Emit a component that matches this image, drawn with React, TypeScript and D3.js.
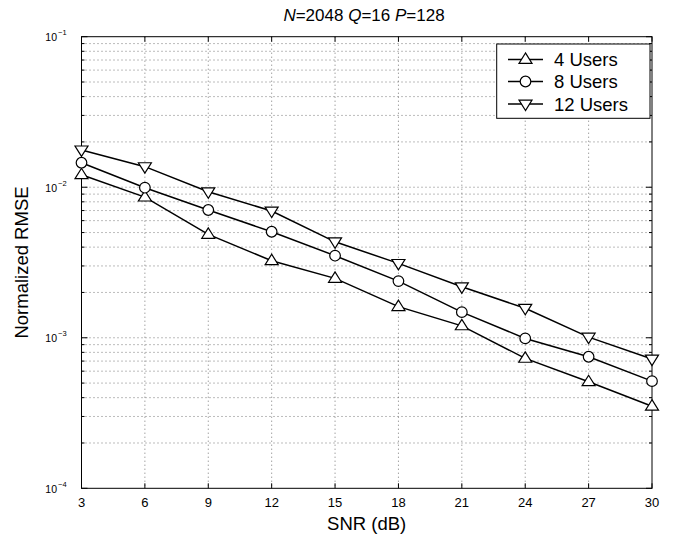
import React from "react";
import * as d3 from "d3";

const snr = [3, 6, 9, 12, 15, 18, 21, 24, 27, 30];
const users4 = [0.0121, 0.0086, 0.00486, 0.00325, 0.00248, 0.00161, 0.0012, 0.00073, 0.00051, 0.000351];
const users8 = [0.01455, 0.00993, 0.00706, 0.00506, 0.00351, 0.00238, 0.00148, 0.00099, 0.000748, 0.000515];
const users12 = [0.0177, 0.0137, 0.00933, 0.00695, 0.00434, 0.00312, 0.00218, 0.00157, 0.00101, 0.000722];
const xTicks = [3, 6, 9, 12, 15, 18, 21, 24, 27, 30];
const yDecades = [-4, -3, -2, -1];
const seriesNames = ["4 Users", "8 Users", "12 Users"];
const markers = ["up", "circle", "down"];

const W = 674, H = 544;
const L = 81.5, R = 652, T = 36.7, B = 488.3;
const FONT = "'Liberation Sans', Arial, Helvetica, sans-serif";

function Marker({ kind, x, y }: { kind: string; x: number; y: number }) {
  const s = 6.5;
  if (kind === "circle") return <circle cx={x} cy={y} r={5.3} fill="white" stroke="black" strokeWidth={1.2} />;
  if (kind === "up") {
    const p = `${x},${y - s} ${x - s},${y + s * 0.6} ${x + s},${y + s * 0.6}`;
    return <polygon points={p} fill="white" stroke="black" strokeWidth={1.2} />;
  }
  const p = `${x},${y + s} ${x - s},${y - s * 0.6} ${x + s},${y - s * 0.6}`;
  return <polygon points={p} fill="white" stroke="black" strokeWidth={1.2} />;
}

export default function App() {
  const x = d3.scaleLinear().domain([3, 30]).range([L, R]);
  const y = d3.scaleLog().domain([1e-4, 1e-1]).range([B, T]);
  const data = [users4, users8, users12];
  const line = d3.line<number>().x((_, i) => x(snr[i])).y((d) => y(d));

  const minor: number[] = [];
  for (let e = -4; e < -1; e++) {
    for (let k = 2; k <= 9; k++) minor.push(k * Math.pow(10, e));
  }
  const majorY = yDecades.map((e) => Math.pow(10, e));

  const legX = 496.7, legY = 44, legW = 153.3, legH = 74.3;
  const rowY = [59.5, 81.5, 104];

  return (
    <svg width={W} height={H} style={{ position: "absolute", left: 0, top: 0, background: "white" }} fontFamily={FONT}>
      <rect x={0} y={0} width={W} height={H} fill="white" />
      {/* grid */}
      <g stroke="#000" strokeWidth={0.7} strokeDasharray="1,3" fill="none" opacity={0.75}>
        {xTicks.slice(1, -1).map((t) => (
          <line key={"gx" + t} x1={x(t)} x2={x(t)} y1={T} y2={B} />
        ))}
        {minor.concat(majorY.slice(1, -1)).map((v, i) => (
          <line key={"gy" + i} x1={L} x2={R} y1={y(v)} y2={y(v)} />
        ))}
      </g>
      {/* ticks */}
      <g stroke="#000" strokeWidth={1}>
        {xTicks.map((t) => (
          <g key={"tx" + t}>
            <line x1={x(t)} x2={x(t)} y1={B} y2={B - 5} />
            <line x1={x(t)} x2={x(t)} y1={T} y2={T + 5} />
          </g>
        ))}
        {majorY.map((v, i) => (
          <g key={"ty" + i}>
            <line x1={L} x2={L + 6} y1={y(v)} y2={y(v)} />
            <line x1={R} x2={R - 6} y1={y(v)} y2={y(v)} />
          </g>
        ))}
        {minor.map((v, i) => (
          <g key={"tm" + i}>
            <line x1={L} x2={L + 3} y1={y(v)} y2={y(v)} />
            <line x1={R} x2={R - 3} y1={y(v)} y2={y(v)} />
          </g>
        ))}
      </g>
      <rect x={L} y={T} width={R - L} height={B - T} fill="none" stroke="#000" strokeWidth={1} />
      {/* tick labels */}
      <g fontSize={13} fill="#000">
        {xTicks.map((t) => (
          <text key={"lx" + t} x={x(t)} y={506.5} textAnchor="middle">
            {t}
          </text>
        ))}
        {yDecades.map((e) => (
          <g key={"ly" + e}>
            <text x={57} y={y(Math.pow(10, e)) + 4.5} fontSize={10.5} textAnchor="end">10</text>
            <text x={58} y={y(Math.pow(10, e)) - 1.5} fontSize={7.5} textAnchor="start">{String(e).replace("-", "\u2212")}</text>
          </g>
        ))}
      </g>
      {/* data */}
      {data.map((s, si) => (
        <g key={"s" + si}>
          <path d={line(s) || ""} fill="none" stroke="#000" strokeWidth={1.5} />
          {s.map((v, i) => (
            <Marker key={i} kind={markers[si]} x={x(snr[i])} y={y(v)} />
          ))}
        </g>
      ))}
      {/* legend */}
      <rect x={legX} y={legY} width={legW} height={legH} fill="white" stroke="#000" strokeWidth={1} />
      {seriesNames.map((n, i) => (
        <g key={"lg" + i}>
          <line x1={508} x2={543} y1={rowY[i]} y2={rowY[i]} stroke="#000" strokeWidth={1.5} />
          <Marker kind={markers[i]} x={525.5} y={rowY[i]} />
          <text x={554} y={rowY[i] + 6.5} fontSize={18.5} fill="#000">{n}</text>
        </g>
      ))}
      {/* title */}
      <text x={364} y={20.5} textAnchor="middle" fontSize={17} fill="#000">
        <tspan fontStyle="italic">N</tspan>=2048 <tspan fontStyle="italic">Q</tspan>=16 <tspan fontStyle="italic">P</tspan>=128
      </text>
      <text x={366.7} y={530} textAnchor="middle" fontSize={18.5} fill="#000">SNR (dB)</text>
      <text transform={`translate(28,${(T + B) / 2}) rotate(-90)`} textAnchor="middle" fontSize={18.5} fill="#000">
        Normalized RMSE
      </text>
    </svg>
  );
}
